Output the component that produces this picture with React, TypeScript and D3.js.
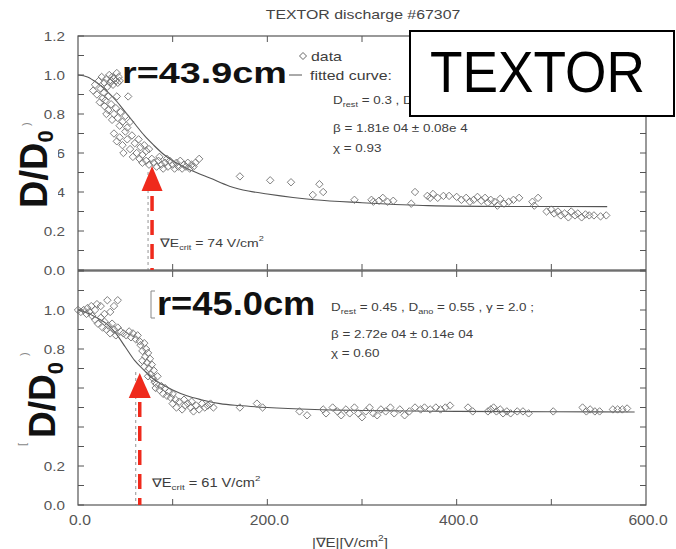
import React from "react";
import * as d3 from "d3";

// ---------- data ----------
const xTicks = [0, 200, 400, 600];
const xTickLabels = ["0.0", "200.0", "400.0", "600.0"];
const yTicksTop = [0, 0.2, 0.4, 0.6, 0.8, 1.0, 1.2];
const yTickLabelsTop = ["0.0", "0.2", "0.4", "0.6", "0.8", "1.0", "1.2"];
const yTicksBottom = [0, 0.2, 0.4, 0.6, 0.8, 1.0];
const yTickLabelsBottom = ["0.0", "0.2", "0.4", "0.6", "0.8", "1.0"];

// r = 43.9 cm (upper panel) measured points [|grad E|, D/D0]
const topPoints: [number, number][] = [
  [16, 0.92], [18, 0.95], [20, 0.9], [22, 0.97], [24, 0.93], [25, 0.99], [27, 0.91], [28, 0.96],
  [30, 0.98], [31, 0.94], [33, 1.0], [34, 0.96], [35, 0.97], [36, 0.99], [37, 0.95], [38, 0.98],
  [40, 0.97], [41, 1.01], [42, 0.96], [43, 0.99], [44, 0.97], [26, 0.88], [29, 0.87], [32, 0.89],
  [23, 0.86], [41, 0.89], [53, 0.89],
  [28, 0.84], [32, 0.82], [35, 0.85], [38, 0.8], [40, 0.83], [42, 0.78], [45, 0.81], [47, 0.76],
  [50, 0.79], [30, 0.8], [36, 0.77], [44, 0.74], [52, 0.73], [55, 0.76],
  [38, 0.7], [41, 0.66], [44, 0.68], [47, 0.64], [50, 0.71], [52, 0.67], [55, 0.62], [57, 0.69],
  [60, 0.65], [62, 0.6], [64, 0.67], [66, 0.63], [68, 0.59], [70, 0.64], [72, 0.61], [48, 0.6],
  [58, 0.58], [75, 0.62],
  [65, 0.57], [68, 0.55], [72, 0.56], [75, 0.54], [78, 0.57], [80, 0.55], [83, 0.53], [85, 0.56],
  [88, 0.54], [90, 0.52], [92, 0.55], [95, 0.53], [97, 0.56], [100, 0.54], [102, 0.52], [104, 0.55],
  [106, 0.53], [108, 0.56], [110, 0.52], [112, 0.54], [114, 0.53], [116, 0.55], [118, 0.52],
  [120, 0.54], [122, 0.53], [124, 0.55], [128, 0.57], [86, 0.58], [94, 0.57],
  [171, 0.48], [203, 0.46], [225, 0.45], [255, 0.44], [248, 0.385], [259, 0.4], [292, 0.36],
  [310, 0.36], [312, 0.35], [318, 0.355], [322, 0.37], [327, 0.35], [333, 0.355], [352, 0.34],
  [356, 0.4], [372, 0.37],
  [369, 0.38], [375, 0.39], [380, 0.37], [386, 0.38], [392, 0.38], [400, 0.375], [405, 0.36],
  [410, 0.37], [414, 0.35], [418, 0.36], [422, 0.375], [426, 0.355], [430, 0.37], [433, 0.345],
  [436, 0.36], [440, 0.35], [443, 0.33], [446, 0.365], [450, 0.34], [455, 0.35], [460, 0.36],
  [466, 0.37], [480, 0.35], [482, 0.33], [486, 0.37],
  [495, 0.3], [500, 0.31], [503, 0.29], [507, 0.3], [510, 0.28], [514, 0.29], [518, 0.27],
  [521, 0.3], [525, 0.28], [528, 0.29], [532, 0.27], [536, 0.285], [540, 0.28], [545, 0.28],
  [552, 0.275], [558, 0.28],
];

// r = 45.0 cm (lower panel)
const bottomPoints: [number, number][] = [
  [0, 1.0], [3, 0.99], [6, 1.0], [9, 0.98], [12, 0.99], [15, 0.97], [18, 1.0], [20, 1.03],
  [24, 1.02], [28, 0.98], [31, 1.05], [34, 0.99], [38, 1.02], [42, 1.05], [14, 1.02], [10, 1.01],
  [18, 0.95], [21, 0.93], [24, 0.96], [26, 0.91], [28, 0.94], [30, 0.9], [32, 0.92], [34, 0.88],
  [36, 0.93], [38, 0.9], [40, 0.87], [42, 0.91], [45, 0.89],
  [48, 0.88], [51, 0.87], [54, 0.89], [56, 0.86], [58, 0.88], [61, 0.85], [63, 0.87], [65, 0.84],
  [66, 0.82], [68, 0.79], [70, 0.83], [71, 0.76], [72, 0.8], [73, 0.73], [74, 0.78], [75, 0.7],
  [76, 0.75], [77, 0.67], [78, 0.72], [79, 0.65], [80, 0.69], [81, 0.63], [70, 0.71], [68, 0.74],
  [74, 0.66], [82, 0.6], [84, 0.66],
  [83, 0.62], [86, 0.59], [88, 0.61], [90, 0.57], [92, 0.6], [94, 0.56], [96, 0.58], [98, 0.55],
  [100, 0.57], [103, 0.54],
  [100, 0.52], [104, 0.5], [107, 0.53], [110, 0.49], [113, 0.51], [116, 0.52], [119, 0.5],
  [122, 0.48], [125, 0.51], [128, 0.49], [131, 0.52], [134, 0.5], [137, 0.51], [140, 0.52],
  [143, 0.5], [112, 0.54], [120, 0.53],
  [171, 0.5], [189, 0.52], [195, 0.5], [234, 0.48], [242, 0.46], [259, 0.49], [262, 0.47],
  [269, 0.5], [274, 0.48], [278, 0.46], [283, 0.49], [287, 0.47], [292, 0.5], [296, 0.47],
  [300, 0.45], [304, 0.48], [308, 0.5], [312, 0.47], [316, 0.46], [320, 0.49], [325, 0.48],
  [330, 0.5], [334, 0.47], [340, 0.49], [345, 0.46], [350, 0.48], [356, 0.5], [362, 0.49],
  [366, 0.5], [372, 0.49], [378, 0.5], [383, 0.49], [388, 0.5], [393, 0.51], [412, 0.5],
  [417, 0.48], [433, 0.48], [436, 0.49], [439, 0.5], [442, 0.48], [446, 0.49], [449, 0.47],
  [453, 0.48], [457, 0.47], [464, 0.48], [470, 0.48], [476, 0.47], [502, 0.48], [533, 0.5],
  [537, 0.48], [541, 0.49], [546, 0.48], [551, 0.48], [565, 0.49], [570, 0.49], [575, 0.49],
  [580, 0.495],
];

// fitted curves
const topCurve: [number, number][] = [
  [0, 1.0], [10, 0.99], [20, 0.96], [30, 0.92], [40, 0.87], [50, 0.81], [60, 0.75], [70, 0.69],
  [80, 0.64], [90, 0.595], [100, 0.56], [120, 0.51], [140, 0.47], [160, 0.43], [180, 0.405],
  [200, 0.39], [250, 0.36], [300, 0.345], [370, 0.33], [450, 0.326], [559, 0.325],
];
const bottomCurve: [number, number][] = [
  [0, 1.0], [10, 0.985], [20, 0.96], [30, 0.93], [40, 0.88], [50, 0.81], [60, 0.74], [70, 0.69],
  [80, 0.645], [90, 0.615], [100, 0.59], [115, 0.56], [130, 0.54], [150, 0.52], [170, 0.51],
  [200, 0.5], [250, 0.49], [300, 0.485], [400, 0.48], [500, 0.478], [588, 0.477],
];

const critTop = 74;
const critBottom = 61;

// ---------- layout ----------
const W = 676;
const H = 549;
const x = d3.scaleLinear().domain([0, 600]).range([78, 646]);
const yTop = d3.scaleLinear().domain([0, 1.2]).range([270, 36]);
const yBot = d3.scaleLinear().domain([0, 1.2]).range([505, 271]);

const AX = "#555";
const TXT = "#3d3d3d";
const RED = "#ef2a1c";
const FONT = "'Liberation Sans', Arial, Helvetica, sans-serif";
const SX = 1.22; // the scanned figure is stretched horizontally

const diamond = (cx: number, cy: number, r: number) =>
  `M${cx},${cy - r}L${cx + r},${cy}L${cx},${cy + r}L${cx - r},${cy}Z`;

function ST(props: {
  x: number; y: number; size: number; anchor?: string; sx?: number; fill?: string;
  weight?: string | number; children: React.ReactNode;
}) {
  const { x: tx, y: ty, size, anchor = "start", sx = SX, fill = TXT, weight = "normal", children } = props;
  return (
    <text
      transform={`translate(${tx},${ty}) scale(${sx},1)`}
      fontSize={size}
      fontFamily={FONT}
      textAnchor={anchor as any}
      fill={fill}
      fontWeight={weight as any}
    >
      {children}
    </text>
  );
}

function Panel(props: {
  y: d3.ScaleLinear<number, number>;
  points: [number, number][];
  curve: [number, number][];
  tickVals: number[];
  tickLabels: string[];
}) {
  const { y, points, curve, tickVals, tickLabels } = props;
  const [y0, y1] = y.range();
  const line = d3
    .line<[number, number]>()
    .x((d) => x(d[0]))
    .y((d) => y(d[1]))
    .curve(d3.curveMonotoneX);
  const minor = d3.range(0, 1.21, 0.1);
  const xt = d3.range(100, 600, 100);
  return (
    <g>
      <rect x={x(0)} y={y1} width={x(600) - x(0)} height={y0 - y1} fill="none" stroke={AX} strokeWidth={1.2} />
      {minor.map((v, i) => (
        <g key={"m" + i}>
          <line x1={x(0)} x2={x(0) + 6} y1={y(v)} y2={y(v)} stroke={AX} strokeWidth={1} />
          <line x1={x(600)} x2={x(600) - 6} y1={y(v)} y2={y(v)} stroke={AX} strokeWidth={1} />
        </g>
      ))}
      {xt.map((v) => (
        <g key={"xt" + v}>
          <line x1={x(v)} x2={x(v)} y1={y1} y2={y1 + 6} stroke={AX} strokeWidth={1} />
          <line x1={x(v)} x2={x(v)} y1={y0} y2={y0 - 6} stroke={AX} strokeWidth={1} />
        </g>
      ))}
      {tickVals.map((v, i) => (
        <ST key={"yl" + i} x={65} y={y(v) + 4.5} size={12.5} anchor="end" fill={AX}>
          {tickLabels[i]}
        </ST>
      ))}
      <path d={line(curve) || ""} fill="none" stroke="#555" strokeWidth={1.1} />
      {points.map((p, i) => (
        <path key={i} d={diamond(x(p[0]), y(p[1]), 3.7)} fill="none" stroke="#707070" strokeWidth={0.9} />
      ))}
    </g>
  );
}

export default function App() {
  const topArrowX = x(critTop) + 4;
  const botArrowX = x(critBottom) + 4;
  return (
    <svg
      width={W}
      height={H}
      style={{ position: "absolute", left: 0, top: 0, background: "#fff" }}
      fontFamily={FONT}
    >
      <rect width={W} height={H} fill="#fff" />
      {/* title */}
      <ST x={363} y={19} size={13} anchor="middle" fill="#444">TEXTOR discharge #67307</ST>

      <Panel y={yTop} points={topPoints} curve={topCurve} tickVals={yTicksTop} tickLabels={yTickLabelsTop} />
      <Panel y={yBot} points={bottomPoints} curve={bottomCurve} tickVals={yTicksBottom} tickLabels={yTickLabelsBottom} />

      {/* x tick labels */}
      {xTicks.map((v, i) => (
        <ST key={"xl" + i} x={x(v) + 2} y={525} size={14} anchor="middle" sx={1.12} fill={AX}>
          {xTickLabels[i]}
        </ST>
      ))}
      <ST x={312} y={547} size={13.5} sx={1.12} fill="#444">
        |∇E|[V/cm<tspan dy={-6} fontSize={9}>2</tspan><tspan dy={6}>]</tspan>
      </ST>

      {/* legend (upper panel) */}
      <path d={diamond(303, 56, 3.5)} fill="none" stroke="#555" strokeWidth={0.9} />
      <ST x={311} y={61} size={13}>data</ST>
      <line x1={289} x2={302} y1={75} y2={75} stroke="#555" strokeWidth={1} />
      <ST x={310} y={80} size={13}>fitted curve:</ST>

      {/* fit parameters upper (rest of the line is hidden by the TEXTOR box) */}
      <ST x={333} y={104} size={11}>
        D<tspan dy={3} fontSize={7.5}>rest</tspan><tspan dy={-3}> = 0.3 , D</tspan>
      </ST>
      <ST x={333} y={132} size={11}>β = 1.81e 04 ± 0.08e 4</ST>
      <ST x={333} y={152} size={11}>χ = 0.93</ST>

      {/* fit parameters lower */}
      <ST x={331} y={311} size={11}>
        D<tspan dy={3} fontSize={7.5}>rest</tspan><tspan dy={-3}> = 0.45 , D</tspan>
        <tspan dy={3} fontSize={7.5}>ano</tspan><tspan dy={-3}> = 0.55 , γ = 2.0 ;</tspan>
      </ST>
      <ST x={331} y={338} size={11}>β = 2.72e 04 ± 0.14e 04</ST>
      <ST x={331} y={357} size={11}>χ = 0.60</ST>

      {/* critical gradient markers */}
      <line x1={x(critTop)} x2={x(critTop)} y1={172} y2={270} stroke="#777" strokeWidth={0.8} strokeDasharray="3 3" />
      <line x1={x(critBottom)} x2={x(critBottom)} y1={372} y2={505} stroke="#777" strokeWidth={0.8} strokeDasharray="3 3" />
      <ST x={160} y={247} size={11.5}>
        ∇E<tspan dy={3} fontSize={7.5}>crit</tspan><tspan dy={-3}> = 74 V/cm</tspan>
        <tspan dy={-6} fontSize={7.5}>2</tspan>
      </ST>
      <ST x={152} y={487} size={12}>
        ∇E<tspan dy={3} fontSize={8}>crit</tspan><tspan dy={-3}> = 61 V/cm</tspan>
        <tspan dy={-6} fontSize={8}>2</tspan>
      </ST>

      {/* red arrows (slide overlay) */}
      <line x1={topArrowX} x2={topArrowX} y1={196} y2={270} stroke={RED} strokeWidth={3.5} strokeDasharray="15 9" />
      <path d={`M${topArrowX},166L${topArrowX + 10.5},191L${topArrowX - 10.5},191Z`} fill={RED} />
      <line x1={botArrowX} x2={botArrowX} y1={402} y2={505} stroke={RED} strokeWidth={3.5} strokeDasharray="15 9" />
      <path d={`M${botArrowX},373L${botArrowX + 11},398L${botArrowX - 11},398Z`} fill={RED} />

      {/* big overlay labels */}
      <text
        transform={`translate(122,83) scale(1.26,1)`}
        fontSize={30}
        fontWeight="bold"
        fontFamily={FONT}
        fill="#111"
      >
        r=43.9cm
      </text>
      <path d="M155,291L151,291L151,318L155,318" fill="none" stroke="#888" strokeWidth={1} />
      <text
        transform={`translate(157,315) scale(1.1,1)`}
        fontSize={33}
        fontWeight="bold"
        fontFamily={FONT}
        fill="#111"
      >
        r=45.0cm
      </text>

      {/* D/D0 labels with their white backing */}
      <rect x={0} y={123} width={58} height={90} fill="#fff" />
      <text transform="translate(47,208) rotate(-90)" fontSize={38} fontWeight="bold" fontFamily={FONT} fill="#111">
        D/D<tspan dy={6} fontSize={22}>0</tspan>
      </text>
      <text transform="translate(30,126) rotate(-90)" fontSize={11} fill="#888" fontFamily={FONT}>)</text>

      <rect x={0} y={357} width={66} height={86} fill="#fff" />
      <text transform="translate(55,438) rotate(-90)" fontSize={37} fontWeight="bold" fontFamily={FONT} fill="#111">
        D/D<tspan dy={8} fontSize={22}>0</tspan>
      </text>
      <text transform="translate(28,356) rotate(-90)" fontSize={11} fill="#888" fontFamily={FONT}>)</text>
      <text transform="translate(26,446) rotate(-90)" fontSize={11} fill="#888" fontFamily={FONT}>[</text>

      {/* TEXTOR box */}
      <rect x={410} y={31} width={264} height={85} fill="#fff" stroke="#000" strokeWidth={2} />
      <text x={430} y={92} fontSize={58} fontFamily={FONT} fill="#000" textLength={215} lengthAdjust="spacingAndGlyphs">
        TEXTOR
      </text>
    </svg>
  );
}
